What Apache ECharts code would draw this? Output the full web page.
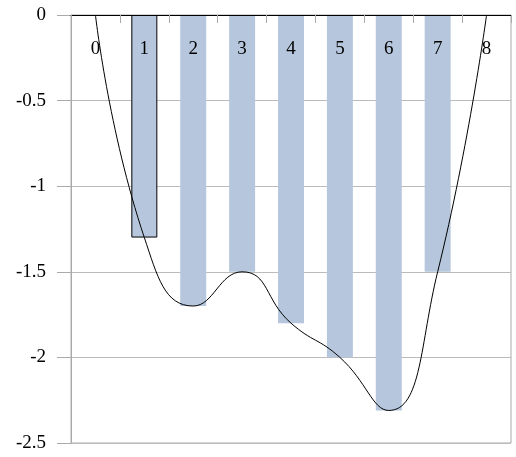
<!DOCTYPE html>
<html>
<head>
<meta charset="utf-8">
<script src="https://cdn.jsdelivr.net/npm/echarts@6/dist/echarts.min.js"></script>
<style>html,body{margin:0;padding:0;background:#fff;}#c{width:516px;height:457px;}</style>
</head>
<body>
<div id="c"></div>
<script>
var categories = ['0','1','2','3','4','5','6','7','8'];
var barValues = [null, -1.3, -1.7, -1.5, -1.8, -2.0, -2.31, -1.5, null];
var lineValues = [0, -1.3, -1.7, -1.5, -1.8, -2.0, -2.31, -1.5, 0];
var yTicks = { min: -2.5, max: 0, interval: 0.5 };

var FONT = 'Liberation Serif';
var chart = echarts.init(document.getElementById('c'), null, { renderer: 'canvas' });
var barData = barValues.map(function (v, i) {
  if (i === 1) {
    return { value: v, itemStyle: { borderColor: '#000', borderWidth: 1 } };
  }
  return v;
});
chart.setOption({
  animation: false,
  backgroundColor: '#fff',
  grid: { left: 71, top: 15, right: 5, bottom: 14, show: true, borderColor: '#aaaaaa', borderWidth: 1, backgroundColor: 'transparent' },
  xAxis: {
    type: 'category',
    position: 'top',
    data: categories,
    boundaryGap: true,
    z: 10,
    axisLine: { show: true, lineStyle: { color: '#000', width: 1 } },
    axisTick: { show: true, inside: true, length: 8, lineStyle: { color: '#aaaaaa' } },
    axisLabel: { inside: true, margin: 25, interval: 0, color: '#000', fontFamily: FONT, fontSize: 19 },
    splitLine: { show: false }
  },
  yAxis: {
    type: 'value',
    min: yTicks.min,
    max: yTicks.max,
    interval: yTicks.interval,
    axisLine: { show: true, lineStyle: { color: '#aaaaaa' } },
    axisTick: { show: true, length: 14, lineStyle: { color: '#aaaaaa' } },
    axisLabel: { margin: 25, color: '#000', fontFamily: FONT, fontSize: 19 },
    splitLine: { show: true, lineStyle: { color: '#bbbbbb' } }
  },
  series: [
    {
      type: 'bar',
      data: barData,
      barWidth: 26,
      itemStyle: { color: '#b6c7dd' },
      z: 2
    },
    {
      type: 'line',
      data: lineValues,
      smooth: 0.5,
      symbol: 'none',
      lineStyle: { color: '#000', width: 1 },
      z: 3
    }
  ]
});
</script>
</body>
</html>
